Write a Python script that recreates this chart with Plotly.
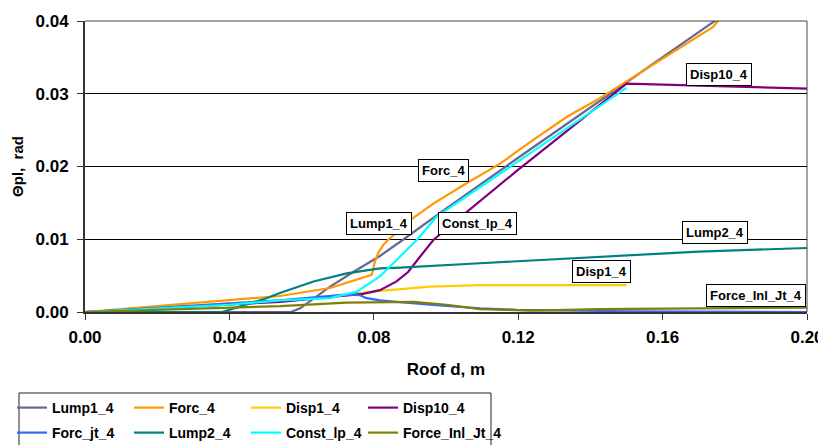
import plotly.graph_objects as go

# ---- data ----
lump1_x = [0, 0.02, 0.04, 0.057, 0.0596, 0.0679, 0.0743, 0.0817, 0.088, 0.10, 0.12, 0.15, 0.175]
lump1_y = [0, 0, 0, 0, 0.0005, 0.0035, 0.0055, 0.0077, 0.0099, 0.0142, 0.0212, 0.0316, 0.0402]

forc_x = [0, 0.02, 0.04, 0.054, 0.0679, 0.0753, 0.0794, 0.0803, 0.0812, 0.0826, 0.0839, 0.0873, 0.090, 0.0965,
          0.105, 0.115, 0.124, 0.1334, 0.142, 0.150, 0.161, 0.174, 0.176]
forc_y = [0, 0.0008, 0.0016, 0.0022, 0.0033, 0.0044, 0.0051, 0.0069, 0.0081, 0.0092, 0.0099, 0.0113, 0.0126, 0.0149,
          0.0175, 0.0204, 0.0236, 0.0268, 0.0292, 0.0317, 0.0351, 0.0392, 0.0404]

disp1_x = [0, 0.02, 0.04, 0.054, 0.07, 0.0817, 0.0956, 0.1094, 0.13, 0.15]
disp1_y = [0, 0.0006, 0.0012, 0.0016, 0.0023, 0.0029, 0.0035, 0.0037, 0.0037, 0.0037]

disp10_x = [0, 0.02, 0.04, 0.054, 0.077, 0.0817, 0.0863, 0.0895, 0.0928, 0.0965, 0.101, 0.1196, 0.150, 0.175, 0.20]
disp10_y = [0, 0.0005, 0.0010, 0.0014, 0.0025, 0.0030, 0.0042, 0.0055, 0.0076, 0.0099, 0.0118, 0.0194, 0.0314, 0.0311, 0.0307]

forcjt_x = [0, 0.02, 0.04, 0.054, 0.0725, 0.0762, 0.078, 0.0817, 0.0956, 0.1094, 0.1196, 0.15, 0.20]
forcjt_y = [0, 0.0006, 0.0012, 0.0016, 0.0024, 0.0023, 0.0019, 0.0016, 0.0010, 0.0005, 0.0003, 0.0001, 0.0]

lump2_x = [0, 0.038, 0.0503, 0.054, 0.0633, 0.0725, 0.0817, 0.0873, 0.1094, 0.1427, 0.170, 0.20]
lump2_y = [0, 0, 0.0019, 0.0026, 0.0042, 0.0053, 0.0060, 0.0061, 0.0067, 0.0076, 0.0083, 0.0088]

constlp_x = [0, 0.02, 0.04, 0.054, 0.0679, 0.0753, 0.0817, 0.0854, 0.0882, 0.0919, 0.0974, 0.12, 0.15]
constlp_y = [0, 0.0005, 0.0010, 0.0016, 0.0019, 0.0028, 0.0049, 0.0067, 0.0081, 0.0099, 0.0131, 0.0207, 0.0308]

forceinl_x = [0, 0.02, 0.04, 0.054, 0.0725, 0.091, 0.1002, 0.1094, 0.124, 0.1427, 0.17, 0.20]
forceinl_y = [0, 0.0003, 0.0006, 0.0008, 0.0013, 0.0014, 0.0010, 0.0004, 0.0002, 0.0004, 0.0005, 0.0006]

x_ticks = [0.00, 0.04, 0.08, 0.12, 0.16, 0.20]
y_ticks = [0.00, 0.01, 0.02, 0.03, 0.04]

# legend1/2: first three columns of rows 1/2; legend3/4: fourth column
series = [
    ("Lump1_4", lump1_x, lump1_y, "#666699", "legend"),
    ("Forc_4", forc_x, forc_y, "#FF9900", "legend"),
    ("Disp1_4", disp1_x, disp1_y, "#FFCC00", "legend"),
    ("Disp10_4", disp10_x, disp10_y, "#800080", "legend3"),
    ("Forc_jt_4", forcjt_x, forcjt_y, "#3366FF", "legend2"),
    ("Lump2_4", lump2_x, lump2_y, "#008080", "legend2"),
    ("Const_lp_4", constlp_x, constlp_y, "#00FFFF", "legend2"),
    ("Force_Inl_Jt_4", forceinl_x, forceinl_y, "#808000", "legend4"),
]

labels = [
    ("Lump1_4", 0.0815, 0.0122),
    ("Forc_4", 0.0992, 0.0194),
    ("Const_lp_4", 0.1086, 0.0121),
    ("Disp10_4", 0.1755, 0.0327),
    ("Lump2_4", 0.1745, 0.0109),
    ("Disp1_4", 0.143, 0.0055),
    ("Force_Inl_Jt_4", 0.186, 0.0023),
]

# page body has an 8px margin, so the figure is offset by 8px in the window
OFF = 8
W, H = 826 - OFF, 445 - OFF
ML, MT = 85 - OFF, 21 - OFF
PW, PH = 722, 291
MR, MB = W - ML - PW, H - MT - PH


def px_x(p):
    return (p - OFF - ML) / PW


def px_y(p):
    return (H - MB - (p - OFF)) / PH


fig = go.Figure()
for name, xs, ys, col, leg in series:
    fig.add_trace(go.Scatter(x=xs, y=ys, mode="lines", name=name, legend=leg,
                             line=dict(color=col, width=2.2)))

for text, lx, ly in labels:
    fig.add_annotation(x=lx, y=ly, text=text, showarrow=False,
                       font=dict(family="Liberation Sans", size=13, color="black", weight="bold"),
                       bgcolor="white", bordercolor="black", borderwidth=1, borderpad=3)

leg_font = dict(family="Liberation Sans", size=14, color="black", weight="bold")
leg_common = dict(orientation="h", xanchor="left", yanchor="top", borderwidth=0,
                  bgcolor="rgba(0,0,0,0)", itemwidth=30, font=leg_font)

axis_font = dict(family="Liberation Sans", size=17, color="black", weight="bold")
fig.update_layout(
    width=W, height=H,
    margin=dict(l=ML, r=MR, t=MT, b=MB, autoexpand=False),
    paper_bgcolor="white", plot_bgcolor="white",
    showlegend=True,
    legend=dict(x=px_x(12), y=px_y(392), entrywidth=72, entrywidthmode="pixels", **leg_common),
    legend2=dict(x=px_x(12), y=px_y(417), entrywidth=72, entrywidthmode="pixels", **leg_common),
    legend3=dict(x=px_x(363), y=px_y(392), **leg_common),
    legend4=dict(x=px_x(363), y=px_y(417), **leg_common),
    xaxis=dict(range=[0, 0.2], tickvals=x_ticks, ticktext=[f"{v:.2f}" for v in x_ticks],
               showgrid=False, zeroline=False, showline=True, linecolor="#333", linewidth=2,
               ticks="outside", ticklen=6, tickcolor="#333", tickfont=axis_font,
               ticklabelstandoff=3,
               title=dict(text="Roof d, m", standoff=17,
                          font=dict(family="Liberation Sans", size=17, color="black", weight="bold"))),
    yaxis=dict(range=[0, 0.04], tickvals=y_ticks, ticktext=[f"{v:.2f}" for v in y_ticks],
               showgrid=True, gridcolor="black", gridwidth=1, zeroline=False,
               showline=True, linecolor="#333", linewidth=2,
               ticks="outside", ticklen=6, tickcolor="#333", tickfont=axis_font,
               ticklabelstandoff=5,
               title=dict(text="Θpl,  rad", standoff=8,
                          font=dict(family="Liberation Sans", size=15, color="black", weight="bold"))),
)
# top and right frame lines
fig.add_shape(type="line", xref="paper", yref="paper", x0=0, x1=1, y0=1, y1=1,
              line=dict(color="#444", width=1))
fig.add_shape(type="line", xref="paper", yref="paper", x0=1, x1=1, y0=0, y1=1,
              line=dict(color="#444", width=1))
# legend frame (extends past the bottom edge, as in the reference)
fig.add_shape(type="rect", xref="paper", yref="paper",
              x0=px_x(19), x1=px_x(491), y0=px_y(460), y1=px_y(393),
              line=dict(color="#222", width=1), layer="below")

fig.write_html("out.html")
